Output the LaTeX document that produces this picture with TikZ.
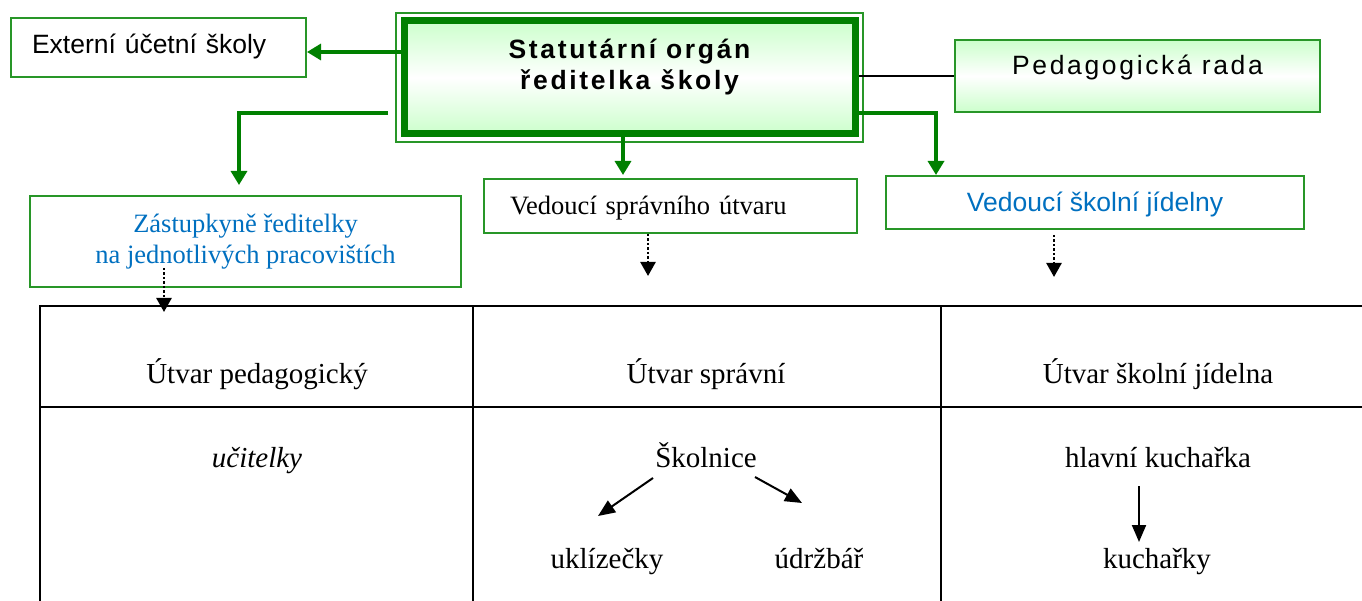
\documentclass[tikz,border=0pt]{standalone}
\usepackage{fontspec}
\setmainfont{Liberation Serif}
\newfontfamily\arial{Liberation Sans}
\newfontfamily\arialsp[LetterSpace=10]{Liberation Sans}
\usetikzlibrary{arrows.meta}
\definecolor{gdark}{RGB}{0,128,0}
\definecolor{gbox}{RGB}{40,150,40}
\definecolor{glight}{RGB}{204,255,204}
\definecolor{tblue}{RGB}{0,112,192}
\begin{document}
\begin{tikzpicture}[x=1pt,y=-1pt,
 boxstyle/.style={draw=gbox, line width=2pt, inner sep=0pt, fill=white},
 sans/.style={font=\arial\fontsize{26.5}{31}\selectfont},
 serif/.style={font=\fontsize{26.5}{31}\selectfont},
 tabtext/.style={font=\fontsize{29}{34}\selectfont, anchor=base, inner sep=0pt},
 garrow/.style={draw=gdark, line width=3.3pt, -{Triangle[length=14pt,width=16pt]}},
 darrow/.style={draw=black, line width=2.5pt, dash pattern=on 2.5pt off 2pt, -{Triangle[length=14pt,width=15pt]}},
 barrow/.style={draw=black, line width=2pt, -{Triangle[length=17pt,width=14pt]}},
 tabline/.style={draw=black, line width=2.5pt}]
\useasboundingbox (0,0) rectangle (1362,601);
\fill[white] (0,0) rectangle (1362,601);

% table
\draw[tabline] (40,601) -- (40,306) -- (1362,306);
\draw[tabline] (40,407) -- (1362,407);
\draw[tabline] (473,306) -- (473,601);
\draw[tabline] (941,306) -- (941,601);

% boxes
\node[boxstyle, sans, text width=253pt, inner xsep=21pt, align=left, minimum height=59pt, text height=19pt, text depth=7pt] (ext) at (158.5,47.5) {Externí účetní školy};
\node[draw=gdark, line width=7pt, minimum width=451pt, minimum height=113pt, top color=glight, bottom color=glight, middle color=white, align=center, font=\arialsp\bfseries\fontsize{26.5}{31}\selectfont, inner sep=0pt, text height=50pt, text depth=25pt] (main) at (629.5,77.5) {Statutární orgán\\ředitelka školy};
\draw[gbox, line width=1.5pt] ([shift={(-4.5pt,4.5pt)}]main.north west) rectangle ([shift={(4.5pt,-4.5pt)}]main.south east);
\node[draw=gbox, line width=1.5pt, top color=glight, bottom color=glight, middle color=white, minimum width=365pt, minimum height=72pt, inner sep=0pt, font=\arialsp\fontsize{26.5}{31}\selectfont, text height=19pt, text depth=22pt] (ped) at (1137.5,76) {Pedagogická rada};
\node[boxstyle, serif, text=tblue, minimum width=431pt, minimum height=91pt, align=center] (zast) at (245.5,241.5) {Zástupkyně ředitelky\\na jednotlivých pracovištích};
\node[boxstyle, serif, text width=321pt, inner xsep=26pt, align=left, minimum height=54pt, text height=19pt, text depth=1pt] (vsp) at (670.5,206) {Vedoucí správního útvaru};
\node[boxstyle, sans, text=tblue, minimum width=418pt, minimum height=53pt, text height=20pt, text depth=1pt] (vsj) at (1095,202.5) {Vedoucí školní jídelny};

% green connectors
\coordinate (e1) at ([yshift=-4.5pt]ext.east);
\draw[garrow] (e1 -| main.west) -- (e1);
\coordinate (zs) at ([shift={(-12.5pt,-35.5pt)}]main.west);
\coordinate (zt) at ([xshift=-6.5pt]zast.north);
\draw[garrow, shorten >=10pt] (zs) -| (zt);
\coordinate (m1) at ([xshift=-6.5pt]main.south);
\draw[garrow, shorten >=3pt] (m1) -- (m1 |- vsp.north);
\coordinate (r1) at ([yshift=-35.5pt]main.east);
\coordinate (r2) at ([xshift=-159pt]vsj.north);
\draw[garrow] (r1) -| (r2);
\draw[black, line width=1.5pt] (ped.west -| main.east) -- (ped.west);

% dotted connectors
\coordinate (d1s) at ([shift={(-81.5pt,20pt)}]zast.south);
\coordinate (d1e) at (164,312);
\draw[darrow] (d1s) -- (d1e);
\coordinate (d2s) at ([xshift=-22.5pt]vsp.south);
\coordinate (d2e) at (648,276);
\draw[darrow] (d2s) -- (d2e);
\coordinate (d3s) at ([shift={(-41pt,-5pt)}]vsj.south);
\coordinate (d3e) at (1054,277);
\draw[darrow] (d3s) -- (d3e);

% table texts
\node[tabtext] (h1) at (257,383) {Útvar pedagogický};
\node[tabtext] (h2) at (706,383) {Útvar správní};
\node[tabtext] (h3) at (1158,383) {Útvar školní jídelna};
\node[tabtext, font=\itshape\fontsize{29}{34}\selectfont] (uc) at (257,467) {učitelky};
\node[tabtext] (sk) at (706,467) {Školnice};
\node[tabtext] (ukl) at (607,568) {uklízečky};
\node[tabtext] (udr) at (819,568) {údržbář};
\node[tabtext] (hk) at (1158,467) {hlavní kuchařka};
\node[tabtext] (ku) at (1157,568) {kuchařky};

\draw[barrow] ([shift={(-53pt,-11pt)}]sk.base) -- ([shift={(-9pt,52pt)}]ukl.base);
\draw[barrow] ([shift={(49pt,-10pt)}]sk.base) -- ([shift={(-17pt,65pt)}]udr.base);
\draw[barrow] ([shift={(-19pt,-19pt)}]hk.base) -- ([shift={(-18pt,26pt)}]ku.base);
\end{tikzpicture}
\end{document}
